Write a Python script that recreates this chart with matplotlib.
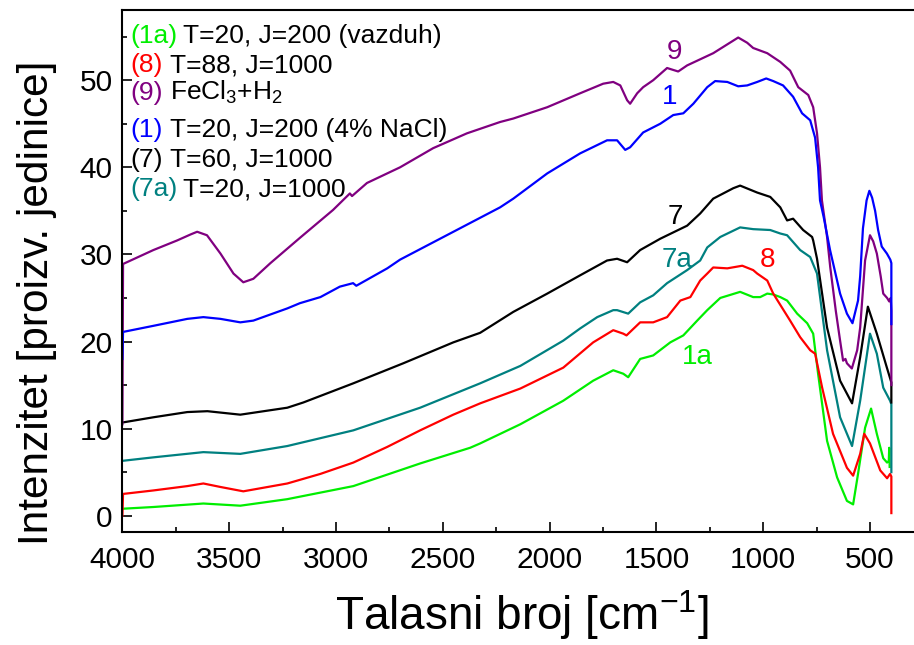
import matplotlib
matplotlib.use("Agg")
import matplotlib.pyplot as plt
from matplotlib.ticker import MultipleLocator

plt.rcParams['font.family'] = ['Liberation Sans', 'DejaVu Sans']
plt.rcParams['mathtext.fontset'] = 'custom'
plt.rcParams['mathtext.rm'] = 'Liberation Sans'
plt.rcParams['mathtext.it'] = 'Liberation Sans:italic'
plt.rcParams['mathtext.bf'] = 'Liberation Sans:bold'

# (9) FeCl3+H2
x9 = [4000, 3997, 3855, 3744, 3680, 3650, 3604, 3541, 3480, 3434, 3387, 3307, 3169, 3014,
      2935, 2925, 2855, 2700, 2545, 2387, 2232, 2170, 2011, 1857, 1749, 1702, 1669,
      1637, 1623, 1590, 1562, 1515, 1450, 1398, 1356, 1234, 1117, 1075, 1047, 981,
      920, 874, 836, 789, 766, 748, 734, 725, 701, 686, 660, 640, 626, 615, 608, 585,
      560, 546, 523, 500, 485, 468, 450, 438, 420, 410, 403, 400, 400]
y9 = [10.5, 28.9, 30.5, 31.6, 32.3, 32.6, 32.2, 30.1, 27.8, 26.8, 27.2, 29.0, 31.9, 35.1,
      37.0, 36.7, 38.2, 40.0, 42.2, 43.9, 45.2, 45.6, 46.9, 48.5, 49.6, 49.8, 49.4,
      47.7, 47.3, 48.5, 49.2, 50.0, 51.4, 51.0, 51.7, 53.1, 54.9, 54.3, 53.7, 53.1,
      52.1, 51.1, 49.2, 48.3, 46.9, 43.9, 40.0, 36.2, 32.0, 28.5, 23.5, 20.1, 17.8,
      18.0, 17.5, 16.9, 19.0, 21.6, 29.3, 32.2, 31.5, 30.1, 27.5, 25.5, 25.0, 24.6,
      25.0, 23.5, 15.0]

# (1) T=20, J=200 (4% NaCl)
x1 = [4000, 3997, 3855, 3696, 3621, 3541, 3448, 3387, 3228, 3169, 3073, 2982, 2920,
      2905, 2760, 2700, 2466, 2232, 2170, 2011, 1857, 1731, 1684, 1646, 1623, 1562,
      1482, 1421, 1374, 1327, 1262, 1225, 1168, 1117, 1075, 1028, 986, 953, 907, 860,
      818, 780, 757, 743, 734, 717, 687, 640, 608, 582, 556, 546, 533, 516, 503, 490,
      476, 462, 445, 421, 405, 400, 400]
y1 = [18.0, 21.1, 21.8, 22.6, 22.8, 22.6, 22.2, 22.4, 23.8, 24.4, 25.1, 26.3, 26.7,
      26.4, 28.4, 29.4, 32.4, 35.4, 36.4, 39.3, 41.6, 43.1, 43.1, 42.0, 42.3, 44.0,
      45.0, 46.0, 46.2, 47.3, 49.2, 49.9, 49.8, 49.3, 49.4, 49.8, 50.2, 49.9, 49.4,
      48.1, 46.2, 45.4, 43.4, 40.0, 36.2, 34.3, 30.5, 25.5, 23.2, 22.1, 24.7, 27.5,
      33.0, 36.2, 37.3, 36.5, 35.0, 32.8, 30.9, 30.1, 29.4, 29.0, 22.0]

# (7) T=60, J=1000
x7 = [4000, 3855, 3696, 3602, 3448, 3228, 3153, 2919, 2685, 2451, 2325, 2170, 2011,
      1857, 1731, 1684, 1637, 1576, 1482, 1356, 1295, 1234, 1140, 1108, 1028, 967,
      920, 888, 860, 813, 771, 766, 748, 701, 640, 584, 546, 510, 468, 421, 400, 400]
y7 = [10.7, 11.3, 11.9, 12.0, 11.6, 12.4, 13.0, 15.2, 17.5, 19.9, 21.0, 23.4, 25.5,
      27.6, 29.3, 29.5, 29.1, 30.5, 31.8, 33.3, 34.7, 36.4, 37.6, 37.9, 37.1, 36.6,
      35.4, 33.9, 34.1, 32.8, 32.0, 31.6, 29.5, 21.6, 15.5, 12.9, 18.2, 24.0, 20.9,
      17.0, 15.3, 13.0]

# (7a) T=20, J=1000
x7a = [4000, 3855, 3621, 3448, 3228, 2919, 2606, 2325, 2137, 1936, 1857, 1777, 1702,
       1684, 1632, 1576, 1515, 1450, 1356, 1295, 1262, 1201, 1108, 1047, 967, 920,
       888, 827, 780, 748, 701, 640, 584, 546, 500, 468, 438, 406, 400, 400]
y7a = [6.3, 6.7, 7.3, 7.1, 8.0, 9.8, 12.4, 15.2, 17.2, 20.1, 21.5, 22.8, 23.6, 23.6,
       23.2, 24.5, 25.3, 26.7, 28.2, 29.3, 30.8, 32.0, 33.1, 32.9, 32.8, 32.4, 32.2,
       30.5, 29.7, 27.8, 19.0, 11.3, 8.0, 13.2, 20.9, 18.6, 14.7, 13.2, 12.8, 5.0]

# (8) T=88, J=1000
x8 = [4000, 3997, 3855, 3696, 3621, 3541, 3434, 3228, 3073, 2919, 2760, 2606, 2451,
      2325, 2137, 1936, 1796, 1702, 1655, 1640, 1576, 1515, 1450, 1388, 1341, 1295,
      1262, 1234, 1168, 1098, 1047, 1028, 981, 953, 874, 827, 780, 757, 724, 673, 608,
      579, 546, 527, 500, 452, 420, 406, 400, 400]
y8 = [0.0, 2.5, 2.9, 3.4, 3.7, 3.3, 2.8, 3.7, 4.8, 6.1, 7.9, 9.8, 11.6, 12.9, 14.6,
      17.0, 19.9, 21.3, 20.9, 20.7, 22.2, 22.2, 22.8, 24.7, 25.1, 27.0, 27.8, 28.5,
      28.4, 28.7, 28.2, 27.8, 27.0, 25.5, 22.4, 20.5, 19.0, 18.6, 14.7, 9.4, 5.5, 4.6,
      7.1, 9.4, 8.3, 5.2, 4.3, 4.8, 4.5, 0.3]

# (1a) T=20, J=200 (vazduh)
x1a = [4000, 3855, 3621, 3448, 3228, 2919, 2606, 2372, 2325, 2137, 1936, 1796, 1702,
       1655, 1632, 1576, 1515, 1435, 1374, 1309, 1262, 1201, 1108, 1047, 1014, 981,
       953, 920, 888, 841, 794, 766, 743, 701, 654, 608, 579, 556, 523, 495, 468, 438,
       420, 412, 410, 408]
y1a = [0.8, 1.0, 1.4, 1.15, 1.9, 3.4, 6.0, 7.8, 8.3, 10.5, 13.2, 15.5, 16.7, 16.3,
       15.9, 18.0, 18.4, 19.9, 20.7, 22.4, 23.6, 25.0, 25.7, 25.1, 25.1, 25.5, 25.4,
       25.1, 24.7, 23.2, 22.1, 20.9, 16.3, 8.6, 4.4, 1.7, 1.3, 4.8, 10.1, 12.3, 9.4,
       6.6, 6.1, 6.3, 7.8, 5.6]

xticks = [4000, 3500, 3000, 2500, 2000, 1500, 1000, 500]
yticks = [0, 10, 20, 30, 40, 50]

c_1a = '#00ee00'
c_8 = '#ff0000'
c_9 = '#800080'
c_1 = '#0000ff'
c_7 = '#000000'
c_7a = '#008080'

W, H = 914, 645
fig = plt.figure(figsize=(W / 100, H / 100), dpi=100)
ax = fig.add_axes([122.4 / W, 1 - 532 / H, (W - 122.4) / W, 522 / H])

lw = 1.6
ax.plot(x1a, y1a, color=c_1a, lw=lw)
ax.plot(x8, y8, color=c_8, lw=lw)
ax.plot(x7a, y7a, color=c_7a, lw=lw)
ax.plot(x7, y7, color=c_7, lw=lw)
ax.plot(x9, y9, color=c_9, lw=lw)
ax.plot(x1, y1, color=c_1, lw=lw)

ax.set_xlim(4000, 294)
ax.set_ylim(-1.87, 58.06)
ax.set_xticks(xticks)
ax.set_yticks(yticks)
ax.xaxis.set_minor_locator(MultipleLocator(250))
ax.yaxis.set_minor_locator(MultipleLocator(5))
ax.tick_params(which='both', direction='in', width=1.2, top=False, right=False)
ax.tick_params(which='major', length=7.5)
ax.tick_params(which='minor', length=3.5)
ax.tick_params(axis='x', labelsize=21.5, pad=10)
ax.tick_params(axis='y', labelsize=21.5, pad=7)
for s in ['left', 'bottom', 'top']:
    ax.spines[s].set_linewidth(1.5)
ax.spines['right'].set_visible(False)

ax.set_xlabel(r'Talasni broj [cm$^{-1}$]', fontsize=33)
ax.xaxis.label.set_va('baseline')
ax.xaxis.set_label_coords(0.505, -0.188)
ax.set_ylabel('Intenzitet [proizv. jedinice]', fontsize=30.5)
ax.yaxis.set_label_coords(-0.083, 0.44)

# legend-like text block, top left
legend_rows = [
    ('(1a)', c_1a, 'T=20, J=200 (vazduh)', 43, 183),
    ('(8)', c_8, 'T=88, J=1000', 72, 170),
    ('(9)', c_9, r'FeCl$_3$+H$_2$', 100, 170),
    ('(1)', c_1, 'T=20, J=200 (4% NaCl)', 137, 170),
    ('(7)', c_7, 'T=60, J=1000', 167, 170),
    ('(7a)', c_7a, 'T=20, J=1000', 196, 183),
]
for tag, col, txt, base, xr in legend_rows:
    fig.text(130 / W, 1 - base / H, tag, color=col, fontsize=19, va='baseline', ha='left')
    fig.text(xr / W, 1 - base / H, txt, color='black', fontsize=19, va='baseline', ha='left')

# curve labels
ax.text(1413, 53.2, '9', color=c_9, fontsize=20, ha='center', va='center')
ax.text(1436, 48.1, '1', color=c_1, fontsize=20, ha='center', va='center')
ax.text(1413, 34.3, '7', color=c_7, fontsize=20, ha='center', va='center')
ax.text(1404, 29.4, '7a', color=c_7a, fontsize=20, ha='center', va='center')
ax.text(982, 29.4, '8', color=c_8, fontsize=20, ha='center', va='center')
ax.text(1310, 18.2, '1a', color=c_1a, fontsize=20, ha='center', va='center')

fig.savefig('out.png', dpi=100)
